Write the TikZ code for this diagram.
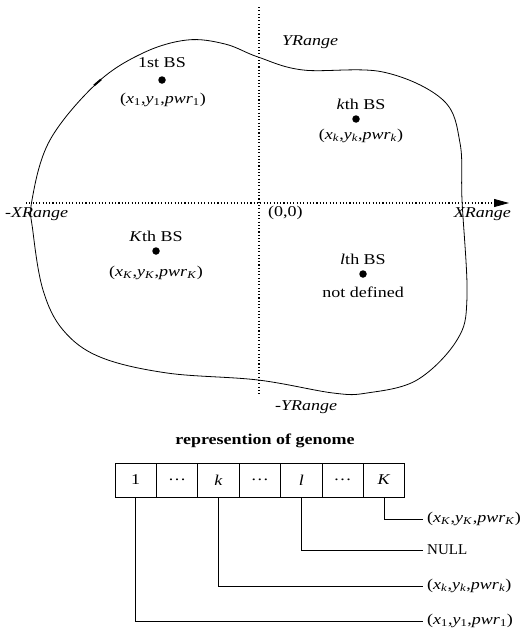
\documentclass[tikz,border=0pt]{standalone}
\usepackage{fontspec}
\usepackage{graphicx}
\setmainfont{Liberation Serif}
\usetikzlibrary{arrows.meta}
% widened text, as set in the figure
\newcommand\wide[1]{\scalebox{1.2}[1]{#1}}
% coordinate triple of a base station
\newcommand\bstrip[1]{\wide{(\textit{x}\textsubscript{#1},\textit{y}\textsubscript{#1},\textit{pwr}\textsubscript{#1})}}
\begin{document}
\begin{tikzpicture}[x=1pt,y=-1pt,
  every node/.style={font=\fontsize{15}{17}\selectfont},
  axisline/.style={line width=1.1pt,dash pattern=on 1.1pt off 2.2pt},
  bsdot/.style={circle,fill=black,inner sep=0pt,minimum size=7.5pt},
  cell/.style={draw,line width=0.8pt,minimum width=41.4pt,minimum height=34pt,inner sep=0pt},
  lbl/.style={anchor=west,inner sep=4pt},
  link/.style={line width=0.8pt}]
\useasboundingbox (0,0) rectangle (522,637);

% axes
\coordinate (xl) at (26,203);
\coordinate (xr) at (509,203);
\coordinate (yt) at (259,7);
\coordinate (yb) at (259,395);
\draw[axisline] (yt) -- (yb);
\draw[axisline] (xl) -- (495,203);
\draw[line width=0.8pt,-{Triangle[length=15pt,width=8pt]}] (494,203) -- (xr);

% region boundary
\draw[line width=0.8pt] plot[smooth cycle,tension=0.6] coordinates {
  (32,200) (50,140) (97,83) (143,53) (187,40) (225,44) (258,57) (303,70)
  (383,72) (443,100) (460,143) (462,200) (467,297) (457,340) (417,380)
  (367,393) (333,393) (258,380) (167,373) (100,357) (63,330) (43,290) (33,232)};
\draw[line width=2pt] (94,85.5) -- (101,79.5);

% axis labels
\node (yr) at (310,42) {\wide{\textit{YRange}}};
\node (nyr) at (306,407) {\wide{\textit{-YRange}}};
\node[anchor=west,inner sep=0pt] (nxr) at (5,214) {\wide{\textit{-XRange}}};
\node[anchor=east,inner sep=0pt] (pxr) at (511,214) {\wide{\textit{XRange}}};
\node[anchor=west,inner sep=0pt] (org) at (268,213) {\wide{(0,0)}};

% base stations
\node[bsdot] (b1) at (162,80) {};
\node (b1n) at (162,63) {\wide{1st BS}};
\node (b1c) at (163,100) {\bstrip{1}};

\node[bsdot] (bk) at (356,119) {};
\node (bkn) at (361,104) {\wide{\textit{k}th BS}};
\node (bkc) at (361,136) {\bstrip{\textit{k}}};

\node[bsdot] (bK) at (156,251) {};
\node (bKn) at (156,236) {\wide{\textit{K}th BS}};
\node (bKc) at (156,273) {\bstrip{\textit{K}}};

\node[bsdot] (bl) at (363,274) {};
\node (bln) at (363,259) {\wide{\textit{l}th BS}};
\node (blc) at (363,292) {\wide{not defined}};

% genome
\node (title) at (265,441) {\wide{\textbf{represention of genome}}};
\node[cell] (c1) at (135.7,480) {\wide{1}};
\node[cell] (c2) at (177.1,480) {\wide{\dots}};
\node[cell] (c3) at (218.5,480) {\wide{\textit{k}}};
\node[cell] (c4) at (259.9,480) {\wide{\dots}};
\node[cell] (c5) at (301.3,480) {\wide{\textit{l}}};
\node[cell] (c6) at (342.7,480) {\wide{\dots}};
\node[cell] (c7) at (384.1,480) {\wide{\textit{K}}};

\node[lbl] (tK) at (423,519) {\bstrip{\textit{K}}};
\node[lbl] (tl) at (423,550) {NULL};
\node[lbl] (tk) at (423,586) {\bstrip{\textit{k}}};
\node[lbl] (t1) at (423,621) {\bstrip{1}};

\draw[link] (c7.south) |- (tK.west);
\draw[link] (c5.south) |- (tl.west);
\draw[link] (c3.south) |- (tk.west);
\draw[link] (c1.south) |- (t1.west);
\end{tikzpicture}
\end{document}
